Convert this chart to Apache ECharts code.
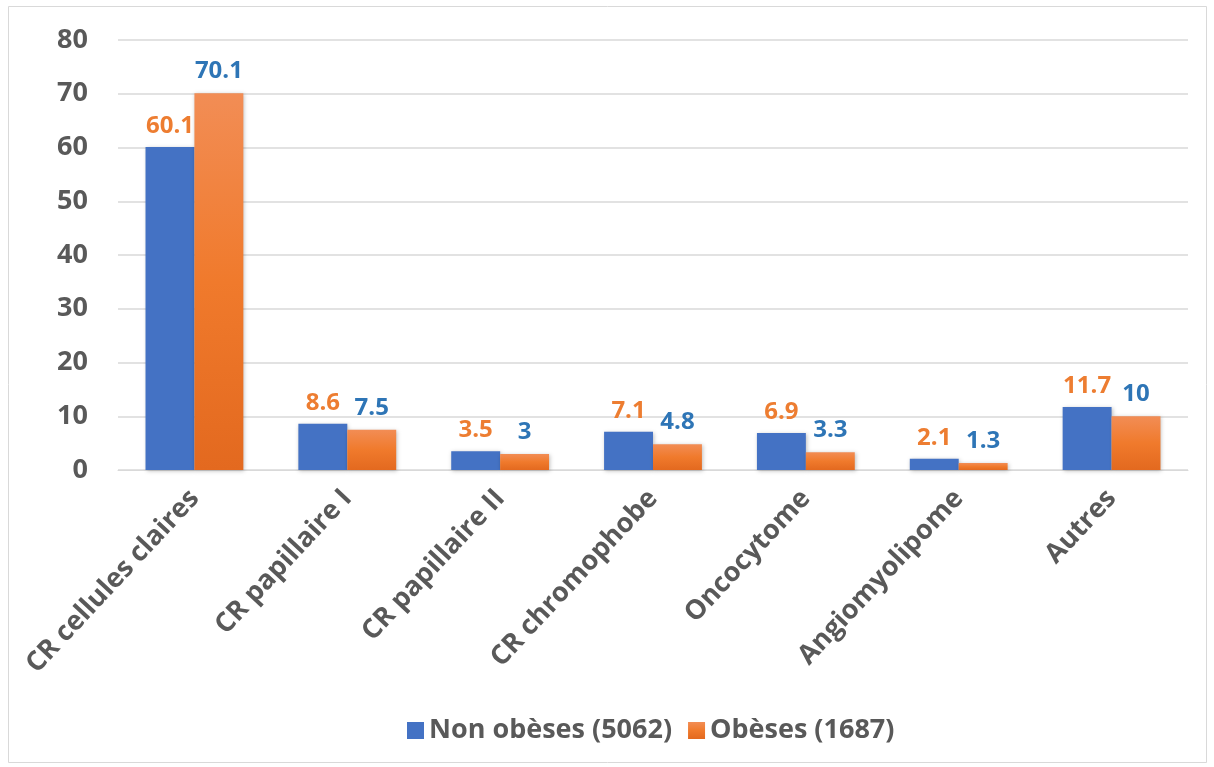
<!DOCTYPE html>
<html><head><meta charset="utf-8">
<script src="https://cdn.jsdelivr.net/npm/echarts@6/dist/echarts.min.js"></script>
<style>html,body{margin:0;padding:0;background:#fff}#c{width:1214px;height:767px}</style>
</head><body><div id="c"></div>
<script>
const categories = ["CR cellules claires","CR papillaire I","CR papillaire II","CR chromophobe","Oncocytome","Angiomyolipome","Autres"];
const nonObeses = [60.1, 8.6, 3.5, 7.1, 6.9, 2.1, 11.7];
const obeses = [70.1, 7.5, 3, 4.8, 3.3, 1.3, 10];
const seriesNames = ["Non obèses (5062)", "Obèses (1687)"];
const yTicks = [0, 10, 20, 30, 40, 50, 60, 70, 80];

const FONT = "'Open Sans', 'Liberation Sans', sans-serif";
const chart = echarts.init(document.getElementById('c'));
chart.setOption({
  animation: false,
  backgroundColor: '#fff',
  graphic: [{type:'rect', shape:{x:8.5,y:6.5,width:1198,height:756}, style:{fill:'none', stroke:'#d9d9d9', lineWidth:1}, silent:true}],
  grid: {left: 118, right: 26, top: 40, bottom: 297},
  legend: {
    bottom: 18, left: 402, itemWidth: 17, itemHeight: 17, itemGap: 16,
    icon: 'rect',
    textStyle: {fontFamily: FONT, fontWeight: 'bold', fontSize: 27, color: '#595959'},
    data: seriesNames
  },
  xAxis: {
    type: 'category', data: categories,
    axisLine: {show: true, lineStyle: {color: '#d9d9d9', width: 1}},
    axisTick: {show: false},
    axisLabel: {rotate: 47, interval: 0, margin: 24, fontFamily: FONT, fontWeight: 'bold', fontSize: 27, color: '#595959'}
  },
  yAxis: {
    type: 'value', min: yTicks[0], max: yTicks[yTicks.length-1], interval: 10,
    axisLine: {show: false}, axisTick: {show: false},
    splitLine: {lineStyle: {color: '#d9d9d9', width: 1.5}},
    axisLabel: {margin: 30, fontFamily: FONT, fontWeight: 'bold', fontSize: 27, color: '#595959'}
  },
  series: [
    {
      name: seriesNames[0], type: 'bar', data: nonObeses, barGap: '0%', barCategoryGap: '36%',
      itemStyle: {color: '#4472C4', shadowColor: 'rgba(0,0,0,0.25)', shadowBlur: 4, shadowOffsetX: 1, shadowOffsetY: 1},
      label: {show: true, position: 'top', distance: 9, fontFamily: FONT, fontWeight: 'bold', fontSize: 24, color: '#ED7D31'}
    },
    {
      name: seriesNames[1], type: 'bar', data: obeses,
      itemStyle: {
        color: new echarts.graphic.LinearGradient(0,0,0,1,[{offset:0,color:'#F28D55'},{offset:0.5,color:'#F07A2C'},{offset:1,color:'#E3691F'}]),
        shadowColor: 'rgba(0,0,0,0.25)', shadowBlur: 4, shadowOffsetX: 1, shadowOffsetY: 1
      },
      label: {show: true, position: 'top', distance: 10, fontFamily: FONT, fontWeight: 'bold', fontSize: 24, color: '#2E75B6'}
    }
  ]
});
</script></body></html>
